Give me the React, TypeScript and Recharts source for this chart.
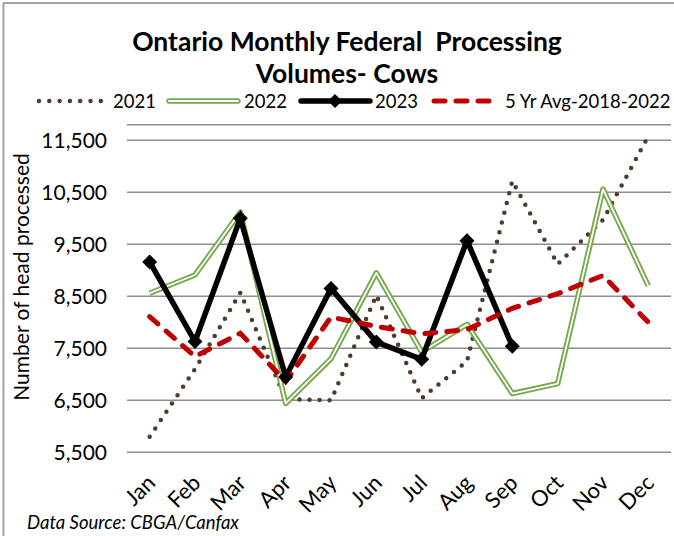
import { LineChart, Line, XAxis, YAxis, CartesianGrid } from "recharts";

const months = ["Jan", "Feb", "Mar", "Apr", "May", "Jun", "Jul", "Aug", "Sep", "Oct", "Nov", "Dec"];
const y2021 = [5800, 7100, 8570, 6520, 6500, 8520, 6540, 7250, 10720, 9120, 9970, 11580];
const y2022 = [8560, 8910, 10120, 6440, 7300, 8950, 7430, 7960, 6630, 6820, 10560, 8700];
const y2023 = [9160, 7630, 10000, 6950, 8650, 7620, 7290, 9570, 7540, null, null, null];
const avg5 = [8110, 7340, 7790, 6860, 8100, 7920, 7780, 7860, 8270, 8550, 8900, 8000];
const yTicks = [5500, 6500, 7500, 8500, 9500, 10500, 11500];

const rows = months.map((m, i) => ({
  month: m,
  y2021: y2021[i],
  y2022: y2022[i],
  y2023: y2023[i],
  avg5: avg5[i],
}));

const FONT = "Lato, 'Open Sans', sans-serif";
const BROWN = "#4f3a2d";
const GREEN = "#74a94c";
const RED = "#c00000";
const GRID = "#8e8e8e";

const fmt = (v: number) => v.toLocaleString("en-US");

const MonthTick = ({ x, y, payload }: any) => (
  <text
    x={0}
    y={0}
    transform={`translate(${x + 7},${y + 24}) rotate(-45)`}
    textAnchor="end"
    fontSize={22}
    fontFamily={FONT}
    fill="#000"
  >
    {payload.value}
  </text>
);

const Diamond = (props: any) => {
  const { cx, cy, index } = props;
  if (cx == null || cy == null || props.value == null) return <g key={`d-${index}`} />;
  const r = 7.5;
  return (
    <polygon
      key={`d-${index}`}
      points={`${cx},${cy - r} ${cx + r},${cy} ${cx},${cy + r} ${cx - r},${cy}`}
      fill="#000"
    />
  );
};

export default function App() {
  return (
    <div style={{ position: "absolute", left: 0, top: 0, width: 674, height: 536, background: "#fff", overflow: "hidden" }}>
      <LineChart
        width={674}
        height={536}
        data={rows}
        margin={{ top: 124.7, right: 3, bottom: 0, left: 0 }}
      >
        <CartesianGrid vertical={false} stroke={GRID} strokeWidth={1.5} />
        <XAxis
          dataKey="month"
          height={83.7}
          padding={{ left: 22.67, right: 22.67 }}
          axisLine={false}
          tickLine={false}
          interval={0}
          tick={<MonthTick />}
        />
        <YAxis
          domain={[5500, 11800]}
          ticks={yTicks}
          width={127}
          axisLine={false}
          tickLine={false}
          tickSize={0}
          tickMargin={20}
          tickFormatter={fmt}
          tick={{ fontSize: 21, fill: "#000", fontFamily: FONT }}
        />
        <Line
          dataKey="y2021"
          stroke={BROWN}
          strokeWidth={4.5}
          strokeDasharray="0 10"
          strokeLinecap="round"
          dot={false}
          isAnimationActive={false}
        />
        <Line dataKey="y2022" stroke={GREEN} strokeWidth={5.5} strokeLinejoin="round" dot={false} isAnimationActive={false} />
        <Line dataKey="y2022" stroke="#fff" strokeWidth={1.8} strokeLinejoin="round" dot={false} isAnimationActive={false} />
        <Line
          dataKey="y2023"
          stroke="#000"
          strokeWidth={5.5}
          dot={<Diamond />}
          isAnimationActive={false}
        />
        <Line
          dataKey="avg5"
          stroke={RED}
          strokeWidth={5}
          strokeDasharray="11 11"
          strokeLinecap="round"
          dot={false}
          isAnimationActive={false}
        />
      </LineChart>

      <svg width={674} height={536} style={{ position: "absolute", left: 0, top: 0, pointerEvents: "none" }}>
        <line x1={3.5} y1={3} x2={3.5} y2={536} stroke="#a3a3a3" strokeWidth={2} />
        <line x1={3} y1={3} x2={674} y2={3} stroke="#a3a3a3" strokeWidth={2} />

        <text x={347} y={51} textAnchor="middle" fontSize={26.5} fontWeight="bold" fontFamily={FONT}>
          Ontario Monthly Federal{"\u00a0\u00a0"}Processing
        </text>
        <text x={347} y={83} textAnchor="middle" fontSize={26.5} fontWeight="bold" fontFamily={FONT}>
          Volumes- Cows
        </text>

        <g fontFamily={FONT} fontSize={18.5}>
          <line x1={39} y1={101} x2={101} y2={101} stroke={BROWN} strokeWidth={4.5} strokeDasharray="0 10.3" strokeLinecap="round" />
          <text x={113} y={108}>2021</text>
          <line x1={169} y1={101} x2={238} y2={101} stroke={GREEN} strokeWidth={5.5} strokeLinecap="round" />
          <line x1={169} y1={101} x2={238} y2={101} stroke="#fff" strokeWidth={1.8} strokeLinecap="round" />
          <text x={244} y={108}>2022</text>
          <line x1={301} y1={101} x2={370} y2={101} stroke="#000" strokeWidth={5.5} strokeLinecap="round" />
          <polygon points="335,94 342,101 335,108 328,101" fill="#000" />
          <text x={375} y={108}>2023</text>
          <line x1={434} y1={101} x2={494} y2={101} stroke={RED} strokeWidth={5} strokeDasharray="11 11" strokeLinecap="round" />
          <text x={505} y={108}>5 Yr Avg-2018-2022</text>
        </g>

        <text
          transform="translate(29,277) rotate(-90)"
          textAnchor="middle"
          fontSize={21}
          fontFamily={FONT}
        >
          Number of head processed
        </text>

        <text x={27} y={529} fontSize={18.5} fontStyle="italic" fontFamily={FONT}>
          Data Source: CBGA/Canfax
        </text>
      </svg>
    </div>
  );
}
